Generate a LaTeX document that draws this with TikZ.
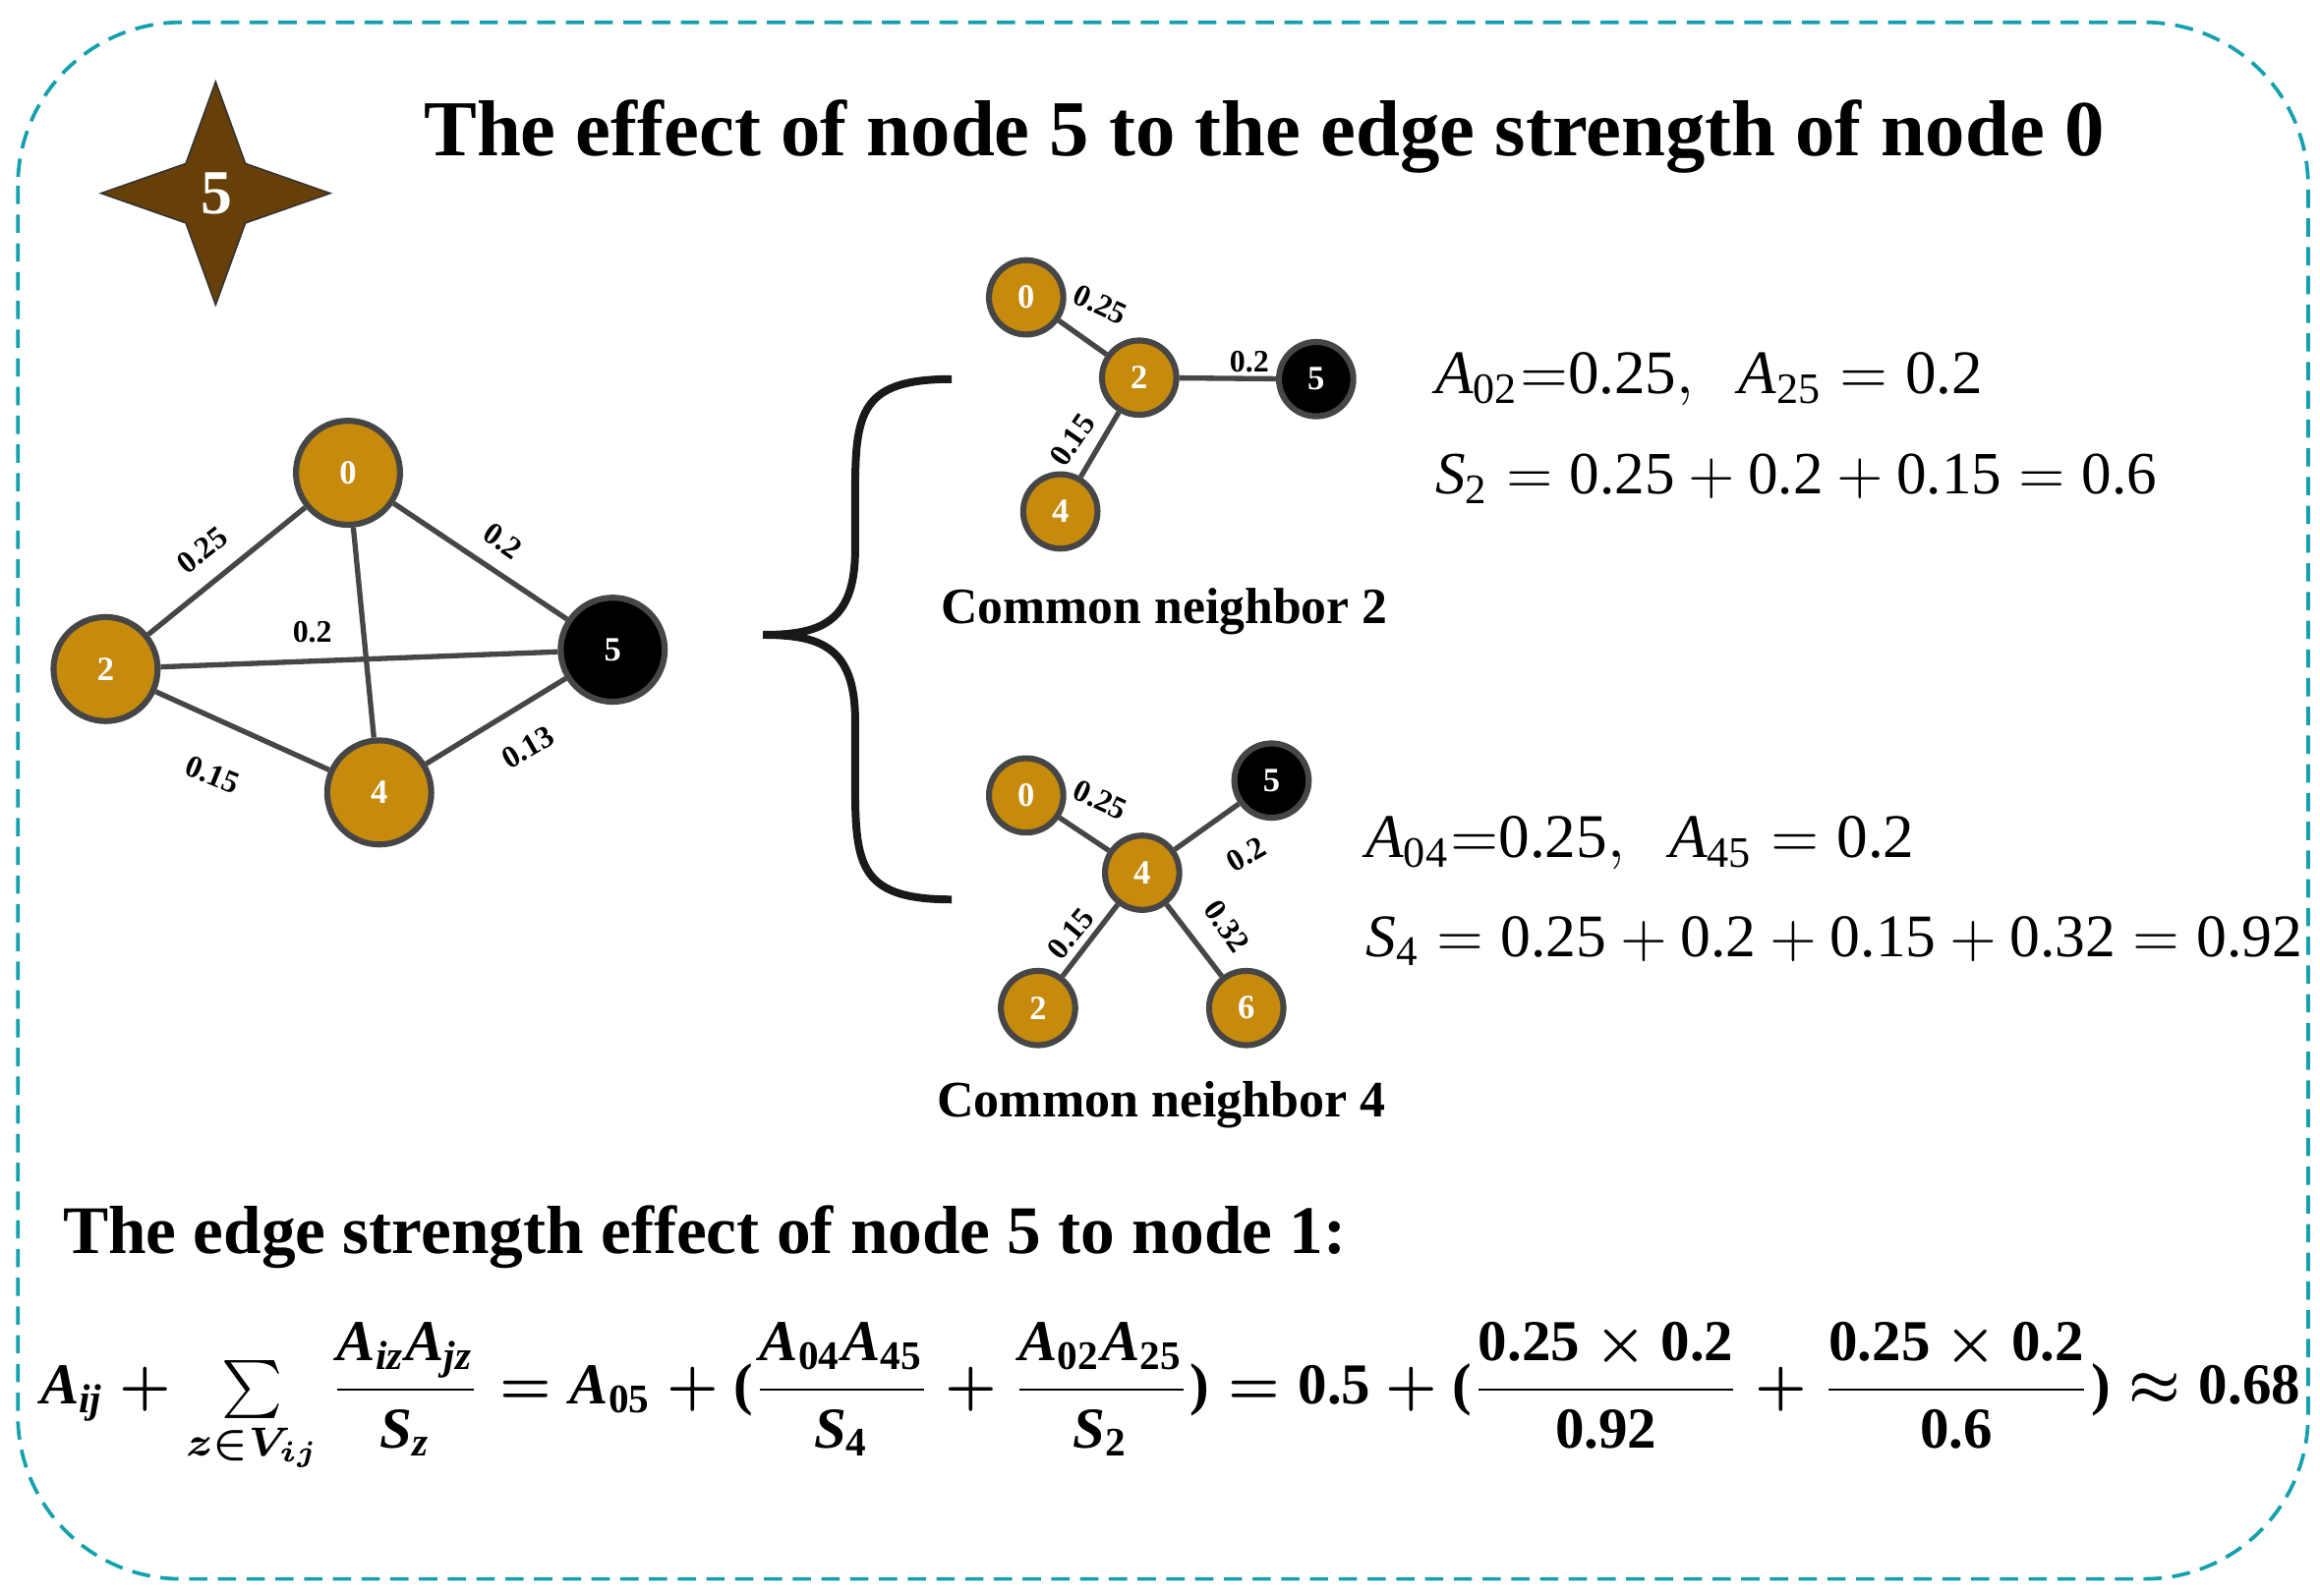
\documentclass[tikz,border=0pt]{standalone}
\usepackage{amsmath}
\usepackage{fontspec}
\setmainfont{Liberation Serif}
\definecolor{gold}{RGB}{198,138,12}
\definecolor{brd}{RGB}{70,70,70}
\definecolor{teal}{RGB}{20,160,175}
\definecolor{brn}{RGB}{102,64,8}
\newcommand\tv[1]{\text{\bfseries\itshape #1}}
\newcommand\tn[1]{\text{\bfseries #1}}
\newcommand\rv[1]{\text{\itshape #1}}
\newcommand\rn[1]{\text{#1}}
\tikzset{
 nd/.style={circle,fill=gold,draw=brd,line width=2.3pt,text=white,font=\bfseries\fontsize{13}{14}\selectfont,inner sep=0pt},
 big/.style={nd,minimum size=1.4cm},
 sm/.style={nd,minimum size=1.0cm},
 blk/.style={fill=black},
 ed/.style={draw=brd,line width=2pt},
 lb/.style={font=\bfseries\fontsize{12}{13}\selectfont,inner sep=0pt},
}
\begin{document}
\begin{tikzpicture}[x=0.02cm,y=-0.02cm]
\useasboundingbox (0,0) rectangle (1560,1073);
\draw[teal,dash pattern=on 7pt off 4pt,line width=1.4pt,rounded corners=2.2cm] (12,15) rectangle (1552,1062);
% star
\draw[fill=brn,draw=black!80,line width=0.6pt] (145,55)--(165,110)--(222,130)--(165,150)--(145,205)--(125,150)--(68,130)--(125,110)--cycle;
\node[text=white,font=\bfseries\fontsize{24}{26}\selectfont] (st) at (146,130) {5};
\node (title) at (850,92) {\resizebox{22.6cm}{!}{\bfseries The effect of node 5 to the edge strength of node 0}};
% left graph
\node[big] (a0) at (234,318) {0};
\node[big] (a2) at (71,450) {2};
\node[big] (a4) at (255,533) {4};
\node[big,blk] (a5) at (412,437) {5};
\draw[ed] (a0)--(a2); \draw[ed] (a0)--(a5); \draw[ed] (a2)--(a5); \draw[ed] (a0)--(a4); \draw[ed] (a2)--(a4); \draw[ed] (a4)--(a5);
\node[lb,rotate=38] (l1) at (136,370) {0.25};
\node[lb,rotate=-35] (l2) at (338,364) {0.2};
\node[lb] (l3) at (210,425) {0.2};
\node[lb,rotate=-22] (l4) at (143,521) {0.15};
\node[lb,rotate=30] (l5) at (355,503) {0.13};
% brace
\draw[line width=3pt,black!90] (640,255) .. controls (575,255) and (575,280) .. (575,340) -- (575,370) .. controls (575,420) and (550,427) .. (513,427) .. controls (550,427) and (575,434) .. (575,484) -- (575,520) .. controls (575,580) and (575,605) .. (640,605);
% top subgraph
\node[sm] (b0) at (690,200) {0};
\node[sm] (b2) at (766,254) {2};
\node[sm,blk] (b5) at (885,255) {5};
\node[sm] (b4) at (713,344) {4};
\draw[ed] (b0)--(b2); \draw[ed] (b2)--(b5); \draw[ed] (b2)--(b4);
\node[lb,rotate=-25] at (740,205) {0.25};
\node[lb] at (840,243) {0.2};
\node[lb,rotate=55] at (721,296) {0.15};
\node (c2) at (783,411) {\resizebox{6cm}{!}{\bfseries Common neighbor 2}};
\node[anchor=west,inner sep=0pt] (f1) at (965,255) {\resizebox{7.36cm}{!}{$\rv{A}_{\rn{02}}{=}\rn{0.25},\;\; \rv{A}_{\rn{25}}=\rn{0.2}$}};
\node[anchor=west,inner sep=0pt] (f2) at (965,322) {\resizebox{9.7cm}{!}{$\rv{S}_{\rn{2}}=\rn{0.25}+\rn{0.2}+\rn{0.15}=\rn{0.6}$}};
% bottom subgraph
\node[sm] (d0) at (690,535) {0};
\node[sm] (d4) at (768,587) {4};
\node[sm,blk] (d5) at (855,525) {5};
\node[sm] (d2) at (698,678) {2};
\node[sm] (d6) at (838,678) {6};
\draw[ed] (d0)--(d4); \draw[ed] (d4)--(d5); \draw[ed] (d4)--(d2); \draw[ed] (d4)--(d6);
\node[lb,rotate=-25] at (740,538) {0.25};
\node[lb,rotate=30] at (838,575) {0.2};
\node[lb,rotate=50] at (720,628) {0.15};
\node[lb,rotate=-55] at (825,623) {0.32};
\node (c4) at (781,743) {\resizebox{6.04cm}{!}{\bfseries Common neighbor 4}};
\node[anchor=west,inner sep=0pt] (f3) at (918,567) {\resizebox{7.38cm}{!}{$\rv{A}_{\rn{04}}{=}\rn{0.25},\;\; \rv{A}_{\rn{45}}=\rn{0.2}$}};
\node[anchor=west,inner sep=0pt] (f4) at (918,633) {\resizebox{12.6cm}{!}{$\rv{S}_{\rn{4}}=\rn{0.25}+\rn{0.2}+\rn{0.15}+\rn{0.32}=\rn{0.92}$}};
% bottom text
\node[anchor=west,inner sep=0pt] (bt) at (42,832) {\resizebox{17.26cm}{!}{\bfseries The edge strength effect of node 5 to node 1:}};
\node (bf) at (787,940) {\resizebox{30.4cm}{!}{\boldmath$\tv{A}_{\tv{ij}}+\sum\limits_{z\in V_{ij}}\dfrac{\tv{A}_{\tv{iz}}\tv{A}_{\tv{jz}}}{\tv{S}_{\tv{z}}}=\tv{A}_{\tn{05}}+\tn{(}\dfrac{\tv{A}_{\tn{04}}\tv{A}_{\tn{45}}}{\tv{S}_{\tn{4}}}+\dfrac{\tv{A}_{\tn{02}}\tv{A}_{\tn{25}}}{\tv{S}_{\tn{2}}}\tn{)}=\tn{0.5}+\tn{(}\dfrac{\tn{0.25}\times\tn{0.2}}{\tn{0.92}}+\dfrac{\tn{0.25}\times\tn{0.2}}{\tn{0.6}}\tn{)}\approx\tn{0.68}$}};
\end{tikzpicture}
\end{document}
